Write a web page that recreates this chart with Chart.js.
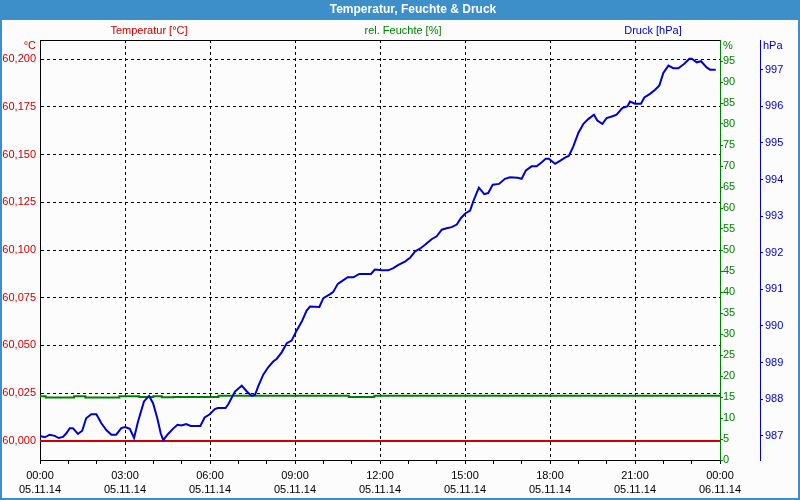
<!DOCTYPE html>
<html>
<head>
<meta charset="utf-8">
<script src="https://cdn.jsdelivr.net/npm/chart.js@4.4.1/dist/chart.umd.min.js"></script>
<style>
html,body{margin:0;padding:0;background:#fbfcfb;overflow:hidden;}
canvas{display:block;}
</style>
</head>
<body>
<canvas id="c" width="800" height="500"></canvas>
<script>
// ---- data ----
const chartTitle = 'Temperatur, Feuchte & Druck';
const seriesNames = ['Temperatur [°C]', 'rel. Feuchte [%]', 'Druck [hPa]'];
const unitLabels = ['°C', '%', 'hPa'];

// x tick labels (every 3 hours)
const xTickTimes = ['00:00','03:00','06:00','09:00','12:00','15:00','18:00','21:00','00:00'];
const xTickDates = ['05.11.14','05.11.14','05.11.14','05.11.14','05.11.14','05.11.14','05.11.14','05.11.14','06.11.14'];

// Druck (hPa): time in hours since 05.11.14 00:00
const pTimes = [0,0.17,0.34,0.52,0.66,0.81,0.93,1.05,1.16,1.34,1.49,1.63,1.81,1.99,2.16,2.34,2.52,2.69,2.87,3.01,3.17,3.32,3.46,3.67,3.85,3.99,4.14,4.26,4.35,4.52,4.69,4.85,4.99,5.16,5.32,5.48,5.66,5.81,5.99,6.17,6.28,6.55,6.65,6.88,7.12,7.30,7.47,7.59,7.70,7.88,8.06,8.23,8.35,8.53,8.71,8.88,9.06,9.24,9.41,9.53,9.86,10.00,10.24,10.35,10.51,10.67,10.86,11.06,11.27,11.68,11.82,12.06,12.29,12.47,12.65,12.88,13.06,13.24,13.41,13.59,13.82,14.00,14.18,14.35,14.53,14.71,14.86,15.02,15.18,15.29,15.41,15.49,15.68,15.82,15.98,16.20,16.41,16.59,16.86,17.00,17.15,17.35,17.53,17.71,17.85,17.96,18.08,18.18,18.35,18.53,18.67,18.82,19.00,19.18,19.35,19.55,19.67,19.85,20.00,20.18,20.35,20.55,20.74,20.82,21.00,21.21,21.33,21.53,21.71,21.86,22.00,22.18,22.35,22.53,22.74,22.92,23.00,23.18,23.33,23.53,23.65,23.85];
const pValues = [987.00,986.96,987.03,987.00,986.94,986.97,987.07,987.21,987.21,987.05,987.14,987.48,987.59,987.59,987.35,987.16,987.03,987.03,987.21,987.24,987.19,986.94,987.39,987.94,988.09,987.89,987.48,987.07,986.88,987.05,987.19,987.30,987.28,987.32,987.27,987.27,987.27,987.50,987.59,987.73,987.76,987.76,987.87,988.21,988.37,988.21,988.09,988.12,988.35,988.67,988.88,989.03,989.10,989.28,989.53,989.60,989.88,990.12,990.42,990.53,990.52,990.76,990.87,990.93,991.15,991.23,991.33,991.33,991.42,991.42,991.54,991.52,991.52,991.58,991.67,991.76,991.86,992.04,992.11,992.22,992.37,992.45,992.63,992.67,992.70,992.77,992.95,993.08,993.15,993.40,993.63,993.78,993.60,993.63,993.86,993.88,994.02,994.06,994.05,994.02,994.25,994.36,994.36,994.47,994.57,994.57,994.49,994.43,994.51,994.60,994.65,994.90,995.27,995.52,995.65,995.77,995.61,995.52,995.68,995.72,995.77,995.95,996.00,996.13,996.07,996.07,996.24,996.34,996.45,996.57,996.91,997.11,997.04,997.04,997.16,997.30,997.30,997.20,997.23,997.06,997.00,997.00];

// rel. Feuchte (%)
const hTimes = [0,0.2,1.2,1.6,2.8,3.5,4.0,4.3,4.7,6.3,10.9,11.8,12.2,24];
const hValues = [14.9,15.2,14.9,15.2,14.9,15.2,15.0,15.2,14.95,15.0,15.3,15.0,15.3,15.3];

// Temperatur (°C)
const tTimes = [0,3,6,9,12,15,18,21,24];
const tValues = [60.000,60.000,60.000,60.000,60.000,60.000,60.000,60.000,60.000];

// ---- styling ----
const RED = '#cc0000', GREEN = '#008000', BLUE = '#0000cc', FRAME = '#3d8fc9';
const FONT = 'Liberation Sans, Arial, sans-serif';

const toXY = (xs, ys) => xs.map((x, i) => ({x: x, y: ys[i]}));

const decorPlugin = {
  id: 'decor',
  beforeDraw(chart) {
    const ctx = chart.ctx;
    ctx.save();
    ctx.fillStyle = '#fbfcfb';
    ctx.fillRect(0, 0, 800, 500);
    ctx.fillStyle = FRAME;
    ctx.fillRect(0, 0, 800, 20);
    ctx.restore();
  },
  afterDraw(chart) {
    const ctx = chart.ctx;
    const a = chart.chartArea;
    ctx.save();
    // top border of plot
    ctx.strokeStyle = '#000';
    ctx.lineWidth = 1;
    ctx.beginPath();
    ctx.moveTo(a.left, Math.round(a.top) + 0.5);
    ctx.lineTo(a.right, Math.round(a.top) + 0.5);
    ctx.stroke();
    // window frame
    ctx.strokeStyle = FRAME;
    ctx.lineWidth = 2;
    ctx.beginPath();
    ctx.moveTo(1, 20); ctx.lineTo(1, 499); ctx.lineTo(799, 499); ctx.lineTo(799, 20);
    ctx.stroke();
    // title
    ctx.fillStyle = '#ffffff';
    ctx.font = 'bold 12px ' + FONT;
    ctx.textAlign = 'center';
    ctx.textBaseline = 'middle';
    ctx.fillText(chartTitle, 413, 10);
    // series names
    ctx.font = '11px ' + FONT;
    ctx.fillStyle = RED;   ctx.fillText(seriesNames[0], 149, 31);
    ctx.fillStyle = GREEN; ctx.fillText(seriesNames[1], 403, 31);
    ctx.fillStyle = BLUE;  ctx.fillText(seriesNames[2], 653, 31);
    // unit labels
    ctx.textAlign = 'right';
    ctx.fillStyle = RED;   ctx.fillText(unitLabels[0], 36, 46);
    ctx.textAlign = 'left';
    ctx.fillStyle = GREEN; ctx.fillText(unitLabels[1], 723, 46);
    ctx.fillStyle = BLUE;  ctx.fillText(unitLabels[2], 763, 46);
    ctx.restore();
  }
};

const tickFont = {family: FONT, size: 11};

new Chart(document.getElementById('c'), {
  type: 'line',
  data: {
    datasets: [
      {label: seriesNames[2], data: toXY(pTimes, pValues), yAxisID: 'yP', borderColor: BLUE, borderWidth: 2, pointRadius: 0, tension: 0},
      {label: seriesNames[0], data: toXY(tTimes, tValues), yAxisID: 'yT', borderColor: RED, borderWidth: 2, pointRadius: 0, tension: 0},
      {label: seriesNames[1], data: toXY(hTimes, hValues), yAxisID: 'yH', borderColor: GREEN, borderWidth: 2, pointRadius: 0, stepped: 'after'}
    ]
  },
  options: {
    responsive: false,
    animation: false,
    events: [],
    layout: {padding: {top: 40, left: 0, right: 0, bottom: 0}},
    plugins: {legend: {display: false}, tooltip: {enabled: false}, title: {display: false}},
    scales: {
      x: {
        type: 'linear', position: 'bottom', min: 0, max: 24,
        afterFit: s => { s.height = 40; },
        ticks: {
          stepSize: 1, autoSkip: false, maxRotation: 0, minRotation: 0,
          color: '#000', padding: 4,
          font: {family: FONT, size: 11, lineHeight: 1.36},
          callback: v => (v % 3 === 0) ? [xTickTimes[v / 3], xTickDates[v / 3]] : ''
        },
        grid: {
          color: c => (c.tick && c.tick.value % 3 === 0 && c.tick.value > 0 && c.tick.value < 24) ? '#000' : 'rgba(0,0,0,0)',
          tickColor: '#000', tickLength: 4, lineWidth: 1, drawTicks: true
        },
        border: {display: true, color: '#000', width: 1, dash: [3, 3]}
      },
      yT: {
        type: 'linear', position: 'left', min: 59.99, max: 60.21,
        afterFit: s => { s.width = 40; },
        ticks: {
          stepSize: 0.025, includeBounds: false, color: RED, padding: 4, font: tickFont,
          callback: v => Number(v).toFixed(3).replace('.', ',')
        },
        grid: {color: '#000', drawTicks: false, lineWidth: 1},
        border: {display: true, color: '#000', width: 1, dash: [3, 3]}
      },
      yH: {
        type: 'linear', position: 'right', min: 0, max: 100,
        afterFit: s => { s.width = 40; },
        ticks: {stepSize: 5, color: GREEN, padding: 0, font: tickFont,
          callback: v => (v >= 100 ? '' : String(v))},
        grid: {drawOnChartArea: false, tickColor: c => (c.tick && c.tick.value >= 100) ? 'rgba(0,0,0,0)' : GREEN, tickLength: 3, drawTicks: true},
        border: {display: true, color: GREEN, width: 1}
      },
      yP: {
        type: 'linear', position: 'right', min: 986.34, max: 997.81,
        afterFit: s => { s.width = 40; },
        ticks: {stepSize: 1, includeBounds: false, color: BLUE, padding: 2, font: tickFont},
        grid: {drawOnChartArea: false, tickColor: BLUE, tickLength: 3, drawTicks: true},
        border: {display: true, color: BLUE, width: 1}
      }
    }
  },
  plugins: [decorPlugin]
});
</script>
</body>
</html>
